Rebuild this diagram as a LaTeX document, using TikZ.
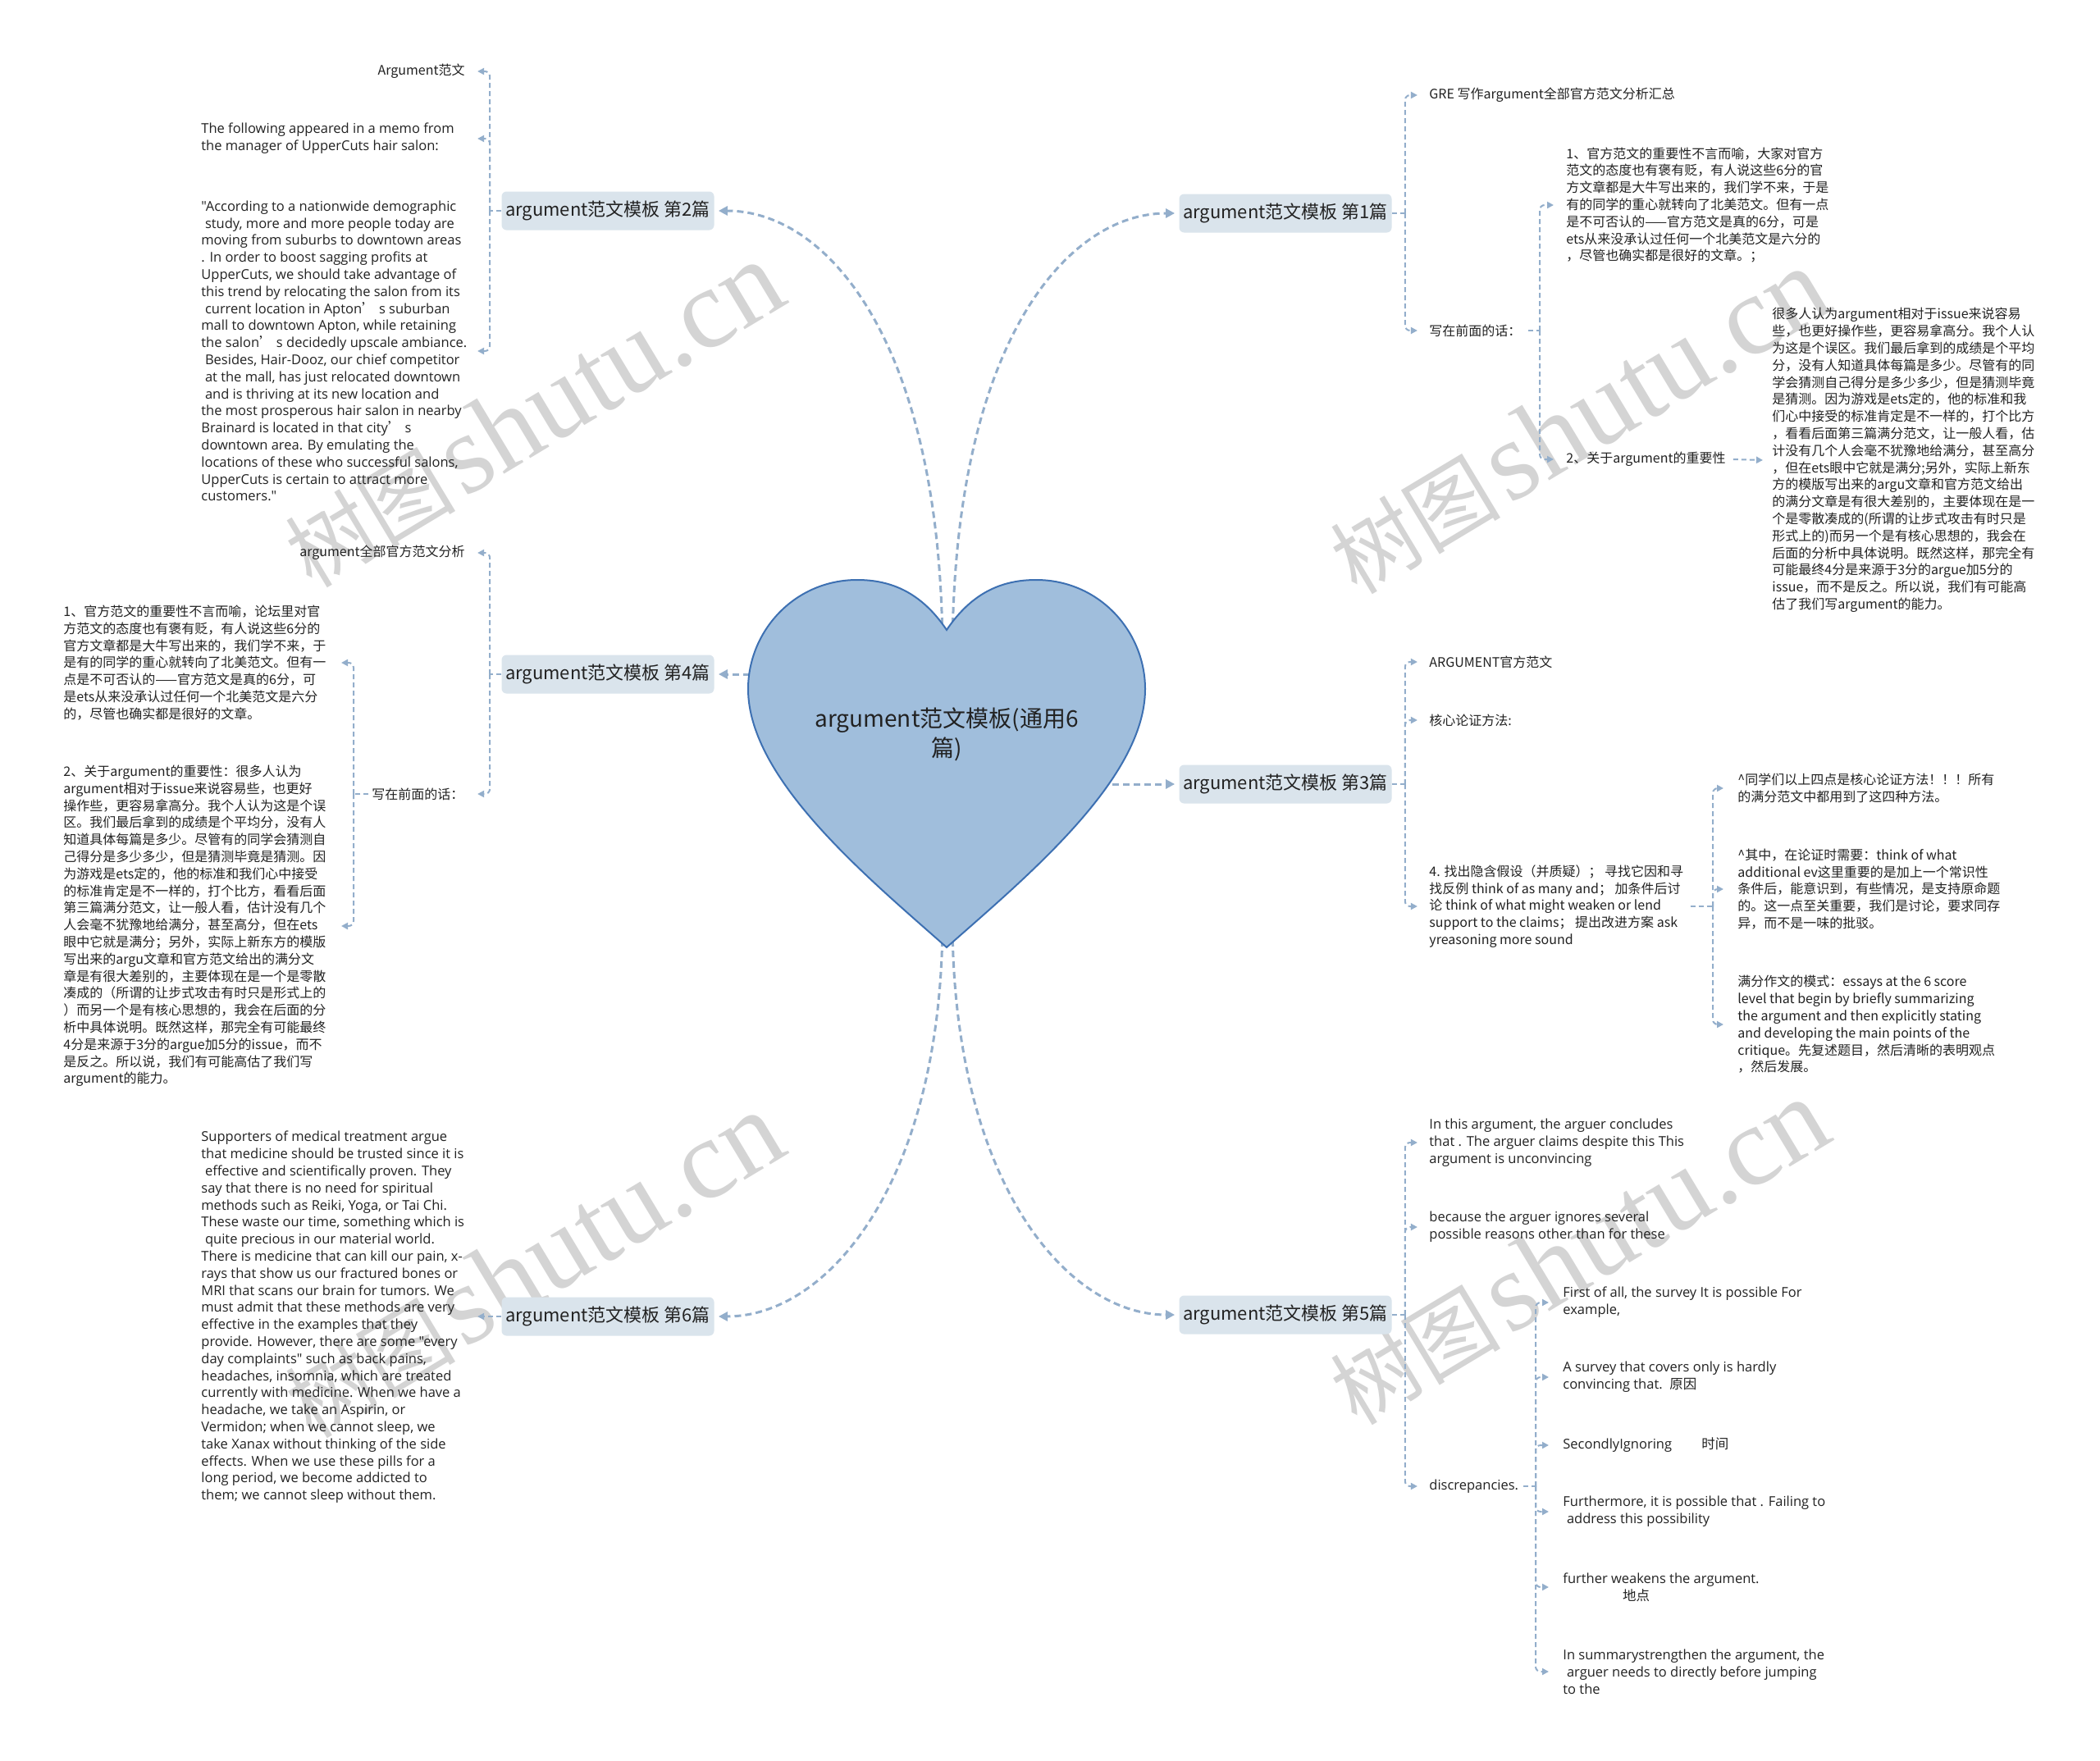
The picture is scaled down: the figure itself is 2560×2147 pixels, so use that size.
\documentclass[tikz,border=0pt]{standalone}
\usepackage{fontspec}
\setmainfont{Noto Sans CJK SC}
\newfontfamily\cjkf{Noto Sans CJK SC}
\newfontfamily\enf{Open Sans}
\newfontfamily\wmf{Liberation Serif}
\usetikzlibrary{arrows.meta,calc}
\definecolor{linec}{HTML}{93AECB}
\definecolor{boxc}{HTML}{DAE4EC}
\definecolor{heartc}{HTML}{A0BEDC}
\definecolor{heartb}{HTML}{3D70B2}
\definecolor{textc}{HTML}{222222}
\definecolor{wmc}{HTML}{D4D4D4}
\newcommand\lsp{\hspace*{0.28em}}
\newcommand\cjkq{{\cjkf ’}}
\tikzset{
 branch/.style={fill=boxc, rounded corners=3pt, minimum width=129.5pt, minimum height=23.5pt, inner sep=0pt, text=textc, font=\fontsize{11}{13}\selectfont},
 cn/.style={inner sep=0pt, align=left, text=textc, font=\fontsize{8}{10.4}\selectfont},
 en/.style={inner sep=0pt, align=left, text=textc, font=\enf\fontsize{8.25}{10.4}\selectfont},
 mainc/.style={draw=linec, line width=1.5pt, dash pattern=on 4pt off 2.5pt, -{Triangle[length=5.5pt,width=5.5pt]}, shorten >=2.5pt},
 sub/.style={draw=linec, line width=1pt, dash pattern=on 3pt off 2pt},
 subarr/.style={sub, rounded corners=3pt, -{Triangle[length=4pt,width=4pt]}},
 wm/.style={text=wmc, inner sep=0pt, rotate=31},
}
\begin{document}
\begin{tikzpicture}[x=0.5pt,y=-0.5pt]
\fill[white] (0,0) rectangle (2560,2147);
\useasboundingbox (0,0) rectangle (2560,2147);

% watermarks
\node[wm] (wm1) at (650,506) {{\cjkf\fontsize{52}{52}\selectfont 树图}\hspace{0.45em}{\wmf\fontsize{69}{69}\selectfont shutu.cn}};
\node[wm] (wm2) at (1924,514) {{\cjkf\fontsize{52}{52}\selectfont 树图}\hspace{0.45em}{\wmf\fontsize{69}{69}\selectfont shutu.cn}};
\node[wm] (wm3) at (650,1543) {{\cjkf\fontsize{52}{52}\selectfont 树图}\hspace{0.45em}{\wmf\fontsize{69}{69}\selectfont shutu.cn}};
\node[wm] (wm4) at (1924,1527) {{\cjkf\fontsize{52}{52}\selectfont 树图}\hspace{0.45em}{\wmf\fontsize{69}{69}\selectfont shutu.cn}};

% branch nodes
\node[branch] (B2) at (741,257) {argument范文模板 第2篇};
\node[branch] (B1) at (1567,260) {argument范文模板 第1篇};
\node[branch] (B4) at (741,822) {argument范文模板 第4篇};
\node[branch] (B3) at (1567,956) {argument范文模板 第3篇};
\node[branch] (B6) at (741,1605) {argument范文模板 第6篇};
\node[branch] (B5) at (1567,1603) {argument范文模板 第5篇};

% heart anchors
\coordinate (hnL) at (1149,800);
\coordinate (hnR) at (1161,800);
\coordinate (htL) at (1149,1120);
\coordinate (htR) at (1161,1120);
\coordinate (hl) at (940,822);
\coordinate (hr) at (1330,956);

% main connectors
\draw[mainc] (hnL) .. controls (1149,420) and (1010,257) .. (B2.east);
\draw[mainc] (hnR) .. controls (1161,420) and (1300,260) .. (B1.west);
\draw[mainc] (hl) -- (B4.east);
\draw[mainc] (hr) -- (B3.west);
\draw[mainc] (htL) .. controls (1149,1440) and (1010,1605) .. (B6.east);
\draw[mainc] (htR) .. controls (1161,1440) and (1300,1603) .. (B5.west);

% heart
\filldraw[fill=heartc, draw=heartb, line width=1pt]
 (1154,768) .. controls (1185,722) and (1222,707) .. (1263,707)
 .. controls (1340,707) and (1396,770) .. (1396,840)
 .. controls (1396,950) and (1250,1070) .. (1154,1155)
 .. controls (1058,1070) and (912,950) .. (912,840)
 .. controls (912,770) and (968,707) .. (1045,707)
 .. controls (1086,707) and (1123,722) .. (1154,768) -- cycle;
\node[text=textc, align=center, inner sep=0pt, font=\fontsize{14}{18}\selectfont] (C) at (1154,895) {argument范文模板(通用6\\篇)};

% ---------- B1 ----------
\node[cn, anchor=west] (R1a) at (1742,116) {GRE 写作argument全部官方范文分析汇总};
\node[cn, anchor=west] (R1b) at (1742,403) {写在前面的话：};
\node[cn, anchor=west] (R1b1) at (1909,250) {1、官方范文的重要性不言而喻，大家对官方\\范文的态度也有褒有贬，有人说这些6分的官\\方文章都是大牛写出来的，我们学不来，于是\\有的同学的重心就转向了北美范文。但有一点\\是不可否认的——官方范文是真的6分，可是\\ets从来没承认过任何一个北美范文是六分的\\，尽管也确实都是很好的文章。；};
\node[cn, anchor=west] (R1b2) at (1909,560) {2、关于argument的重要性};
\node[cn, anchor=west] (R1b2a) at (2160,561) {很多人认为argument相对于issue来说容易\\些，也更好操作些，更容易拿高分。我个人认\\为这是个误区。我们最后拿到的成绩是个平均\\分，没有人知道具体每篇是多少。尽管有的同\\学会猜测自己得分是多少多少，但是猜测毕竟\\是猜测。因为游戏是ets定的，他的标准和我\\们心中接受的标准肯定是不一样的，打个比方\\，看看后面第三篇满分范文，让一般人看，估\\计没有几个人会毫不犹豫地给满分，甚至高分\\，但在ets眼中它就是满分;另外，实际上新东\\方的模版写出来的argu文章和官方范文给出\\的满分文章是有很大差别的，主要体现在是一\\个是零散凑成的(所谓的让步式攻击有时只是\\形式上的)而另一个是有核心思想的，我会在\\后面的分析中具体说明。既然这样，那完全有\\可能最终4分是来源于3分的argue加5分的\\issue，而不是反之。所以说，我们有可能高\\估了我们写argument的能力。};

\coordinate (b1) at ($(B1.east)+(16,0)$);
\coordinate (t1) at ($(b1)+(15,0)$);
\draw[sub] (B1.east) -- (b1);
\draw[subarr] (b1) |- (t1 |- R1a.west);
\draw[subarr] (b1) |- (t1 |- R1b.west);
\coordinate (b1b) at ($(R1b.west)+(135,0)$);
\coordinate (t1b) at ($(b1b)+(17,0)$);
\draw[sub] ($(R1b.east)+(8,0)$) -- (b1b);
\draw[subarr] (b1b) |- (t1b |- R1b1.west);
\draw[subarr] (b1b) |- (t1b |- R1b2.west);
\draw[subarr] ($(R1b2.east)+(9,0)$) -- ($(R1b2a.west)+(-11,0)$);

% ---------- B3 ----------
\node[cn, anchor=west] (R3a) at (1742,807) {ARGUMENT官方范文};
\node[cn, anchor=west] (R3b) at (1742,878) {核心论证方法:};
\node[cn, anchor=west] (R3c) at (1742,1105) {4. 找出隐含假设（并质疑）； 寻找它因和寻\\找反例 think of as many and； 加条件后讨\\论 think of what might weaken or lend\\support to the claims； 提出改进方案 ask\\yreasoning more sound};
\node[cn, anchor=west] (R3c1) at (2118,961) {\textasciicircum 同学们以上四点是核心论证方法！！！所有\\的满分范文中都用到了这四种方法。};
\node[cn, anchor=west] (R3c2) at (2118,1084) {\textasciicircum 其中，在论证时需要：think of what\\additional ev这里重要的是加上一个常识性\\条件后，能意识到，有些情况，是支持原命题\\的。这一点至关重要，我们是讨论，要求同存\\异，而不是一味的批驳。};
\node[cn, anchor=west] (R3c3) at (2118,1249) {满分作文的模式：essays at the 6 score\\level that begin by briefly summarizing\\the argument and then explicitly stating\\and developing the main points of the\\critique。先复述题目，然后清晰的表明观点\\，然后发展。};

\coordinate (b3) at ($(B3.east)+(16,0)$);
\coordinate (t3) at ($(b3)+(15,0)$);
\draw[sub] (B3.east) -- (b3);
\draw[subarr] (b3) |- (t3 |- R3a.west);
\draw[subarr] (b3) |- (t3 |- R3b.west);
\draw[subarr] (b3) |- (t3 |- R3c.west);
\coordinate (b3c) at ($(R3c.west)+(346,0)$);
\coordinate (t3c) at ($(b3c)+(13,0)$);
\draw[sub] ($(R3c.east)+(8,0)$) -- (b3c);
\draw[subarr] (b3c) |- (t3c |- R3c1.west);
\draw[subarr] (b3c) |- (t3c |- R3c2.west);
\draw[subarr] (b3c) |- (t3c |- R3c3.west);

% ---------- B5 ----------
\node[en, anchor=west] (R5a) at (1742,1393) {In this argument, the arguer concludes\\that . The arguer claims despite this This\\argument is unconvincing};
\node[en, anchor=west] (R5b) at (1742,1496) {because the arguer ignores several\\possible reasons other than for these};
\node[en, anchor=west] (R5c) at (1742,1812) {discrepancies.};
\node[en, anchor=west] (R5c1) at (1905,1588) {First of all, the survey It is possible For\\example,};
\node[en, anchor=west] (R5c2) at (1905,1679) {A survey that covers only is hardly\\convincing that.\ \ {\cjkf 原因}};
\node[en, anchor=west] (R5c3) at (1905,1762) {SecondlyIgnoring\hspace{2.2em}{\cjkf 时间}};
\node[en, anchor=west] (R5c4) at (1905,1843) {Furthermore, it is possible that . Failing to\\\lsp address this possibility};
\node[en, anchor=west] (R5c5) at (1905,1935) {further weakens the argument.\\\hspace*{4.4em}{\cjkf 地点}};
\node[en, anchor=west] (R5c6) at (1905,2038) {In summarystrengthen the argument, the\\\lsp arguer needs to directly before jumping\\to the};

\coordinate (b5) at ($(B5.east)+(16,0)$);
\coordinate (t5) at ($(b5)+(15,0)$);
\draw[sub] (B5.east) -- (b5);
\draw[subarr] (b5) |- (t5 |- R5a.west);
\draw[subarr] (b5) |- (t5 |- R5b.west);
\draw[subarr] (b5) |- (t5 |- R5c.west);
\coordinate (b5c) at ($(R5c.west)+(130,0)$);
\coordinate (t5c) at ($(b5c)+(16,0)$);
\draw[sub] ($(R5c.east)+(6,0)$) -- (b5c);
\draw[subarr] (b5c) |- (t5c |- R5c1.west);
\draw[subarr] (b5c) |- (t5c |- R5c2.west);
\draw[subarr] (b5c) |- (t5c |- R5c3.west);
\draw[subarr] (b5c) |- (t5c |- R5c4.west);
\draw[subarr] (b5c) |- (t5c |- R5c5.west);
\draw[subarr] (b5c) |- (t5c |- R5c6.west);

% ---------- B2 ----------
\node[cn, anchor=east] (L2a) at (567,87) {Argument范文};
\node[en, anchor=west] (L2b) at (245,169) {The following appeared in a memo from\\the manager of UpperCuts hair salon:};
\node[en, anchor=west] (L2c) at (245,428) {"According to a nationwide demographic\\\lsp study, more and more people today are\\moving from suburbs to downtown areas\\. In order to boost sagging profits at\\UpperCuts, we should take advantage of\\this trend by relocating the salon from its\\\lsp current location in Apton\cjkq\ s suburban\\mall to downtown Apton, while retaining\\the salon\cjkq\ s decidedly upscale ambiance.\\\lsp Besides, Hair-Dooz, our chief competitor\\\lsp at the mall, has just relocated downtown\\\lsp and is thriving at its new location and\\the most prosperous hair salon in nearby\\Brainard is located in that city\cjkq\ s\\downtown area. By emulating the\\locations of these who successful salons,\\UpperCuts is certain to attract more\\customers."};

\coordinate (b2) at ($(B2.west)+(-14,0)$);
\coordinate (t2) at ($(b2)+(-15,0)$);
\draw[sub] (B2.west) -- (b2);
\draw[subarr] (b2) |- (t2 |- L2a.east);
\draw[subarr] (b2) |- (t2 |- L2b.west);
\draw[subarr] (b2) |- (t2 |- L2c.west);

% ---------- B4 ----------
\node[cn, anchor=east] (L4a) at (567,674) {argument全部官方范文分析};
\node[cn, anchor=west] (L4b) at (453,968) {写在前面的话：};
\node[cn, anchor=west] (L4b1) at (77,808) {1、官方范文的重要性不言而喻，论坛里对官\\方范文的态度也有褒有贬，有人说这些6分的\\官方文章都是大牛写出来的，我们学不来，于\\是有的同学的重心就转向了北美范文。但有一\\点是不可否认的——官方范文是真的6分，可\\是ets从来没承认过任何一个北美范文是六分\\的，尽管也确实都是很好的文章。};
\node[cn, anchor=west] (L4b2) at (77,1129) {2、关于argument的重要性：很多人认为\\argument相对于issue来说容易些，也更好\\操作些，更容易拿高分。我个人认为这是个误\\区。我们最后拿到的成绩是个平均分，没有人\\知道具体每篇是多少。尽管有的同学会猜测自\\己得分是多少多少，但是猜测毕竟是猜测。因\\为游戏是ets定的，他的标准和我们心中接受\\的标准肯定是不一样的，打个比方，看看后面\\第三篇满分范文，让一般人看，估计没有几个\\人会毫不犹豫地给满分，甚至高分，但在ets\\眼中它就是满分；另外，实际上新东方的模版\\写出来的argu文章和官方范文给出的满分文\\章是有很大差别的，主要体现在是一个是零散\\凑成的（所谓的让步式攻击有时只是形式上的\\）而另一个是有核心思想的，我会在后面的分\\析中具体说明。既然这样，那完全有可能最终\\4分是来源于3分的argue加5分的issue，而不\\是反之。所以说，我们有可能高估了我们写\\argument的能力。};

\coordinate (b4) at ($(B4.west)+(-14,0)$);
\coordinate (t4) at ($(b4)+(-15,0)$);
\draw[sub] (B4.west) -- (b4);
\draw[subarr] (b4) |- (t4 |- L4a.east);
\draw[subarr] (b4) |- (t4 |- L4b.west);
\coordinate (b4b) at ($(L4b.west)+(-22,0)$);
\coordinate (t4b) at ($(b4b)+(-15,0)$);
\draw[sub] ($(L4b.west)+(-4,0)$) -- (b4b);
\draw[subarr] (b4b) |- (t4b |- L4b1.west);
\draw[subarr] (b4b) |- (t4b |- L4b2.west);

% ---------- B6 ----------
\node[en, anchor=west] (L6a) at (245,1606) {Supporters of medical treatment argue\\that medicine should be trusted since it is\\\lsp effective and scientifically proven. They\\say that there is no need for spiritual\\methods such as Reiki, Yoga, or Tai Chi.\\These waste our time, something which is\\\lsp quite precious in our material world.\\There is medicine that can kill our pain, x-\\rays that show us our fractured bones or\\MRI that scans our brain for tumors. We\\must admit that these methods are very\\effective in the examples that they\\provide. However, there are some "every\\day complaints" such as back pains,\\headaches, insomnia, which are treated\\currently with medicine. When we have a\\headache, we take an Aspirin, or\\Vermidon; when we cannot sleep, we\\take Xanax without thinking of the side\\effects. When we use these pills for a\\long period, we become addicted to\\them; we cannot sleep without them.};
\coordinate (t6) at ($(B6.west)+(-29,0)$);
\draw[subarr] (B6.west) -- (t6);
\end{tikzpicture}
\end{document}
